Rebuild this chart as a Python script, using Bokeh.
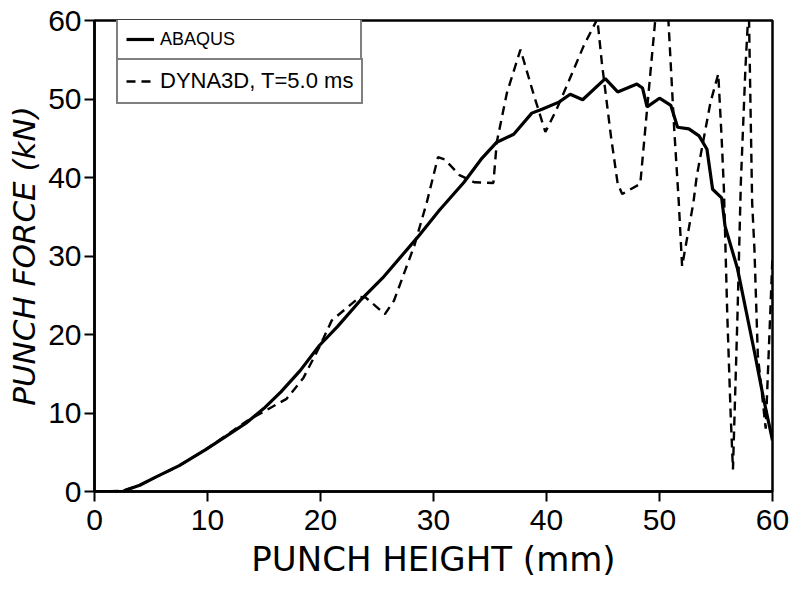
from bokeh.plotting import figure
from bokeh.models import Range1d, Legend, LegendItem, FixedTicker
from bokeh.embed import file_html
from bokeh.resources import INLINE

# Punch force vs. punch height: implicit (ABAQUS) and explicit (DYNA3D) results
abaqus_x = [0.0, 2.5, 3.0, 4.0, 5.5, 7.5, 9.8, 11.5, 13.4, 15.0, 16.5, 18.2, 19.9,
            21.5, 23.5, 25.5, 28.6, 30.5, 32.7, 34.2, 35.6, 37.1, 38.7, 39.6, 41.1,
            42.1, 43.2, 45.2, 46.3, 48.0, 48.5, 48.9, 50.0, 51.0, 51.6, 52.6, 53.5,
            54.2, 54.7, 55.5, 55.8, 56.9, 58.4, 59.2, 60.0]
abaqus_y = [0.0, 0.0, 0.3, 0.8, 1.9, 3.3, 5.3, 6.9, 8.7, 10.6, 12.7, 15.4, 18.6,
            21.0, 24.3, 27.2, 32.4, 35.8, 39.4, 42.3, 44.5, 45.5, 48.2, 48.7, 49.6,
            50.6, 49.9, 52.6, 50.9, 51.9, 51.4, 49.0, 50.1, 49.2, 46.4, 46.2, 45.3,
            43.6, 38.5, 37.4, 33.8, 28.4, 17.8, 11.9, 6.5]

dyna_x = [0.0, 2.5, 4.0, 7.5, 9.8, 13.4, 15.0, 17.0, 18.5, 19.9, 21.0, 23.5, 24.0,
          25.7, 26.5, 28.3, 29.4, 30.4, 31.0, 32.3, 33.6, 35.3, 35.6, 36.5, 37.7,
          38.9, 39.9, 40.9, 41.8, 43.3, 44.5, 44.9, 45.7, 46.3, 46.7, 48.3, 48.9,
          49.6, 50.2, 50.8, 51.3, 51.7, 52.0, 53.0, 53.3, 54.5, 55.2, 55.5, 55.7,
          56.0, 56.3, 56.5, 56.9, 57.2, 57.6, 57.9, 58.2, 58.4, 58.7, 59.4, 60.0]
dyna_y = [0.0, 0.1, 0.8, 3.3, 5.3, 8.9, 10.2, 11.8, 14.5, 18.4, 21.8, 24.8, 24.7,
          22.6, 24.3, 31.3, 36.8, 42.6, 42.3, 40.3, 39.4, 39.3, 44.5, 50.8, 56.3,
          50.4, 45.8, 48.7, 51.7, 56.8, 60.2, 54.6, 45.3, 39.2, 37.9, 39.2, 48.7,
          59.7, 70.0, 59.7, 46.2, 37.0, 28.7, 36.8, 40.2, 49.5, 53.2, 45.0, 38.5,
          22.4, 9.7, 2.8, 22.4, 39.4, 53.8, 62.0, 36.8, 30.9, 17.4, 8.0, 30.0]

x_ticks = [0, 10, 20, 30, 40, 50, 60]
y_ticks = [0, 10, 20, 30, 40, 50, 60]

TICK_FONT = "Liberation Sans"
LABEL_FONT = "DejaVu Sans"

p = figure(width=795, height=591, output_backend="svg", toolbar_location=None,
           x_range=Range1d(0, 60), y_range=Range1d(0, 60),
           min_border_left=94, min_border_right=23, min_border_top=20,
           min_border_bottom=100)
p.grid.visible = False
p.background_fill_color = "white"
p.border_fill_color = "white"
p.outline_line_color = "black"
p.outline_line_width = 2.5

r_abaqus = p.line(abaqus_x, abaqus_y, line_color="black", line_width=3.2)
r_dyna = p.line(dyna_x, dyna_y, line_color="black", line_width=2.4,
                line_dash="9 6")

for ax, ticks in ((p.xaxis, x_ticks), (p.yaxis, y_ticks)):
    ax.ticker = FixedTicker(ticks=ticks)
    ax.axis_line_color = "black"
    ax.axis_line_width = 2.5
    ax.major_tick_line_color = "black"
    ax.major_tick_line_width = 2
    ax.major_tick_in = 0
    ax.major_tick_out = 10
    ax.minor_tick_in = 0
    ax.minor_tick_out = 0
    ax.major_label_text_font = TICK_FONT
    ax.major_label_text_font_size = "30px"
    ax.major_label_text_color = "black"
    ax.axis_label_text_font = LABEL_FONT
    ax.axis_label_text_color = "black"

p.xaxis.axis_label = "PUNCH HEIGHT (mm)"
p.xaxis.axis_label_text_font_size = "34px"
p.xaxis.axis_label_text_font_style = "normal"
p.xaxis.major_label_standoff = 8
p.xaxis.axis_label_standoff = 6
p.yaxis.axis_label = "PUNCH FORCE (kN)"
p.yaxis.axis_label_text_font_size = "31px"
p.yaxis.axis_label_text_font_style = "italic"
p.yaxis.major_label_standoff = 3
p.yaxis.axis_label_standoff = 3

frame_h = 591 - 20 - 100
box_h = 42


def make_legend(label, renderer, size, bottom):
    return Legend(items=[LegendItem(label=label, renderers=[renderer])],
                  location=(22, bottom), margin=0, padding=8, spacing=0,
                  glyph_width=28, glyph_height=26, label_height=26,
                  label_width=192, label_standoff=6,
                  label_text_font=TICK_FONT, label_text_font_size=size,
                  label_text_color="black",
                  border_line_color="black", border_line_width=2.2,
                  background_fill_color="white", background_fill_alpha=1.0)


p.add_layout(make_legend("ABAQUS", r_abaqus, "18px", frame_h - box_h))
p.add_layout(make_legend("DYNA3D, T=5.0 ms", r_dyna, "22px", frame_h - 2 * box_h))

open("out.html", "w").write(file_html(p, INLINE))
